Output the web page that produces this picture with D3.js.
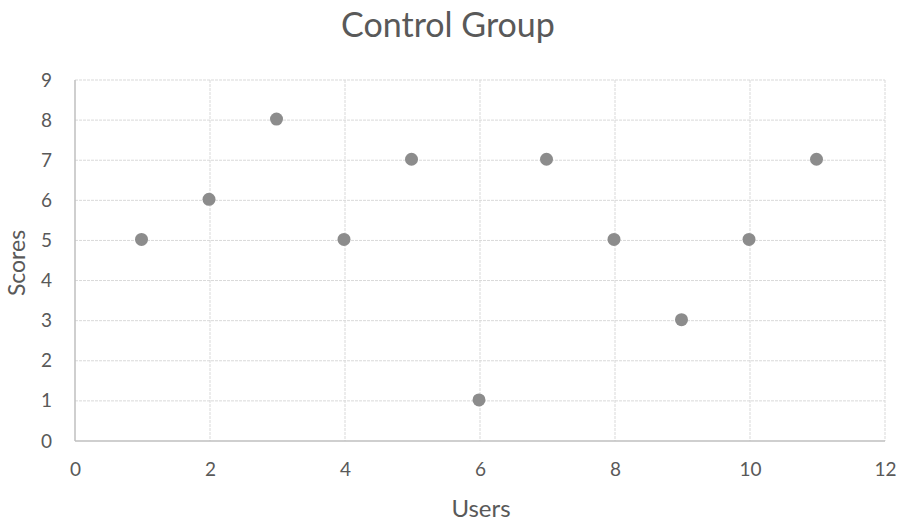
<!DOCTYPE html>
<html>
<head>
<meta charset="utf-8">
<script src="https://cdn.jsdelivr.net/npm/d3@7"></script>
<style>
  html, body { margin: 0; padding: 0; background: #fff; }
  svg { display: block; }
</style>
</head>
<body>
<svg id="chart" width="901" height="523"></svg>
<script>
// Scores recorded for each user in the control group
const users  = [1, 2, 3, 4, 5, 6, 7, 8, 9, 10, 11];
const scores = [5, 6, 8, 5, 7, 1, 7, 5, 3, 5, 7];
const xTicks = [0, 2, 4, 6, 8, 10, 12];
const yTicks = [0, 1, 2, 3, 4, 5, 6, 7, 8, 9];

(function () {
  const svg = d3.select("#chart");
  const font = "Lato, 'Open Sans', sans-serif";
  const textColor = "#595959";

  const plot = { left: 75, right: 885, top: 80, bottom: 441 };

  const x = d3.scaleLinear().domain([0, 12]).range([plot.left, plot.right]);
  const y = d3.scaleLinear().domain([0, 9]).range([plot.bottom, plot.top]);

  // Gridlines
  const grid = svg.append("g");
  grid.selectAll("line.h").data(yTicks.filter(d => d > 0)).join("line")
    .attr("class", "h")
    .attr("x1", plot.left).attr("x2", plot.right)
    .attr("y1", d => y(d)).attr("y2", d => y(d))
    .attr("stroke", "#d9d9d9").attr("stroke-width", 1)
    .attr("stroke-dasharray", "3,1");
  grid.selectAll("line.v").data(xTicks.filter(d => d > 0)).join("line")
    .attr("class", "v")
    .attr("x1", d => x(d)).attr("x2", d => x(d))
    .attr("y1", plot.top).attr("y2", plot.bottom)
    .attr("stroke", "#d9d9d9").attr("stroke-width", 1)
    .attr("stroke-dasharray", "3,1");

  // Axis lines
  svg.append("line").attr("x1", plot.left).attr("x2", plot.right)
    .attr("y1", plot.bottom).attr("y2", plot.bottom)
    .attr("stroke", "#bfbfbf").attr("stroke-width", 1.5);
  svg.append("line").attr("x1", plot.left).attr("x2", plot.left)
    .attr("y1", plot.top).attr("y2", plot.bottom)
    .attr("stroke", "#bfbfbf").attr("stroke-width", 1.5);

  // Axes (labels only)
  const xAxis = svg.append("g").attr("transform", `translate(0,${plot.bottom})`)
    .call(d3.axisBottom(x).tickValues(xTicks).tickSize(0).tickPadding(22));
  const yAxis = svg.append("g").attr("transform", `translate(${plot.left},0)`)
    .call(d3.axisLeft(y).tickValues(yTicks).tickSize(0).tickPadding(23));
  [xAxis, yAxis].forEach(g => {
    g.select(".domain").remove();
    g.selectAll("text").attr("fill", textColor)
      .style("font-family", font).style("font-size", "19px");
  });

  // Points
  svg.append("g").selectAll("circle").data(users).join("circle")
    .attr("cx", d => x(d) - 1)
    .attr("cy", (d, i) => y(scores[i]) - 1)
    .attr("r", 6.5)
    .attr("fill", "#8c8c8c");

  // Titles
  svg.append("text").attr("x", 448).attr("y", 37).attr("text-anchor", "middle")
    .attr("fill", textColor).style("font-family", font).style("font-size", "34px")
    .text("Control Group");
  svg.append("text").attr("x", 481).attr("y", 517).attr("text-anchor", "middle")
    .attr("fill", textColor).style("font-family", font).style("font-size", "24px")
    .text("Users");
  svg.append("text").attr("transform", "translate(25,263) rotate(-90)")
    .attr("text-anchor", "middle")
    .attr("fill", textColor).style("font-family", font).style("font-size", "23px")
    .text("Scores");
})();
</script>
</body>
</html>
